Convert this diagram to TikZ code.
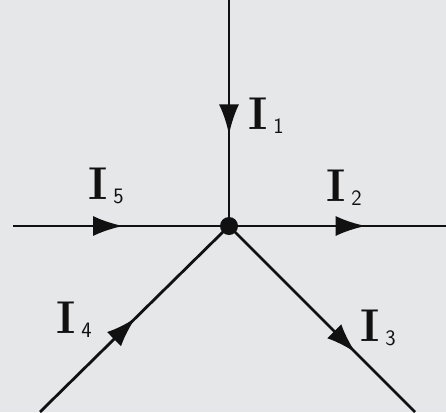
\documentclass[tikz,border=0pt]{standalone}
\usetikzlibrary{arrows.meta,decorations.markings}
\definecolor{bg}{HTML}{E5E7E9}
\definecolor{ink}{HTML}{111111}
\tikzset{
  wire/.style={draw=ink,line width=2.8pt},
  arr/.style={postaction={decorate,decoration={markings,mark=at position #1 with {\arrow{Latex[length=30pt,width=20pt]}}}}},
  lab/.style={inner sep=0pt,text=ink},
}
\newcommand{\cur}[1]{\fontsize{46}{46}\selectfont\textbf{I}\hspace{6pt}\raisebox{-4pt}{\fontsize{22}{22}\selectfont\sffamily #1}}
\begin{document}
\begin{tikzpicture}[x=1pt,y=-1pt]
\fill[bg] (0,0) rectangle (446,412);
\useasboundingbox (0,0) rectangle (446,412);
\node[circle,fill=ink,inner sep=0pt,minimum size=18pt] (o) at (229,226) {};
\coordinate (top) at (229,0);
\coordinate (left) at (13,226);
\coordinate (right) at (446,226);
\coordinate (ll) at (40,412);
\coordinate (lr) at (415,412);
\path[wire,arr=0.595] (top) -- (o.center);
\path[wire,arr=0.51] (left) -- (o.center);
\path[wire,arr=0.63] (o.center) -- (right);
\path[wire,arr=0.505] (ll) -- (o.center);
\path[wire,arr=0.68] (o.center) -- (lr);
\node[lab,anchor=west] (l1) at (248,116) {\cur{1}};
\node[lab,anchor=west] (l2) at (326,188) {\cur{2}};
\node[lab,anchor=west] (l3) at (360,328) {\cur{3}};
\node[lab,anchor=west] (l4) at (56,320) {\cur{4}};
\node[lab,anchor=west] (l5) at (88,186) {\cur{5}};
\end{tikzpicture}
\end{document}
